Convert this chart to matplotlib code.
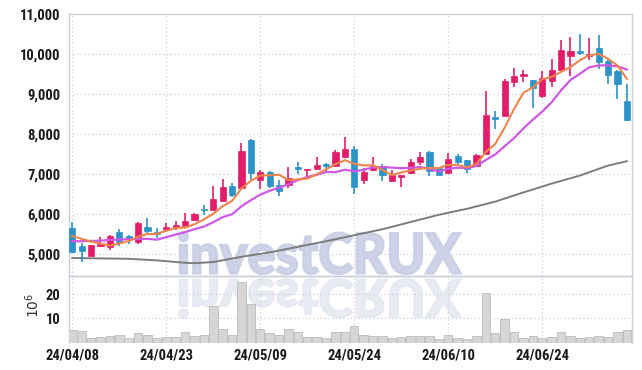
import matplotlib
matplotlib.use('Agg')
import matplotlib.pyplot as plt
import numpy as np
import pandas as pd
from matplotlib import font_manager
from matplotlib.textpath import TextPath
from matplotlib.patches import PathPatch
from matplotlib.font_manager import FontProperties
from matplotlib.transforms import Affine2D

# ---------------- data ----------------
tick_pos = [0, 10, 20, 30, 40, 50]
tick_labels = ['24/04/08', '24/04/23', '24/05/09', '24/05/24', '24/06/10', '24/06/24']

opens = [5650, 5208, 4958, 5192, 5167, 5558, 5458, 5292, 5683, 5558,
         5625, 5675, 5708, 5842, 6108, 6092, 6317, 6708, 6650, 7858,
         6842, 7042, 6733, 6717, 7142, 7092, 7133, 7258, 7192, 7425,
         7633, 6858, 7092, 7208, 6833, 6917, 7025, 7292, 7542, 7150,
         7025, 7442, 7342, 7192, 7508, 8392, 8458, 9292, 9442, 9358,
         8958, 9317, 9608, 9942, 10058, 9942, 10158, 9833, 9583, 8833]
closes = [5042, 5067, 5233, 5258, 5458, 5292, 5375, 5783, 5583, 5492,
          5675, 5717, 5833, 6008, 6092, 6375, 6675, 6483, 7583, 7025,
          7050, 6692, 6567, 6900, 7125, 7133, 7233, 7192, 7542, 7633,
          6667, 7042, 7208, 6967, 6983, 6983, 7300, 7417, 7067, 6983,
          7375, 7292, 7125, 7483, 8483, 8375, 9333, 9458, 9508, 9150,
          9400, 9608, 10108, 10083, 10025, 10008, 9792, 9483, 9258, 8358]
highs = [5792, 5275, 5233, 5425, 5483, 5625, 5483, 5800, 5900, 5650,
         5775, 5817, 6025, 6025, 6217, 6708, 6875, 6775, 7775, 7875,
         7108, 7067, 6842, 7175, 7300, 7133, 7425, 7275, 7592, 7925,
         7692, 7150, 7425, 7258, 7092, 6983, 7375, 7542, 7567, 7175,
         7525, 7508, 7358, 7508, 9083, 8583, 9383, 9650, 9592, 9358,
         9567, 9875, 10358, 10425, 10508, 10400, 10483, 9875, 9608, 9250]
lows = [5030, 4792, 4942, 5175, 5108, 5208, 5250, 5250, 5500, 5400,
        5567, 5608, 5692, 5817, 5983, 6067, 6292, 6425, 6608, 6858,
        6625, 6650, 6442, 6650, 7008, 6900, 7125, 7042, 7175, 7400,
        6508, 6758, 7067, 6833, 6792, 6675, 7008, 7233, 6958, 6983,
        7008, 7258, 7025, 7175, 7483, 8125, 8442, 9167, 9292, 8650,
        8900, 9167, 9592, 9458, 9983, 9842, 9625, 9250, 8875, 8317]
volumes = [5.1, 4.7, 1.9, 2.4, 2.8, 3.1, 1.9, 3.75, 3.3, 1.7,
           2.4, 2.1, 4.2, 2.8, 3.1, 15.1, 5.8, 3.3, 25.0, 15.8,
           5.8, 3.75, 3.3, 5.8, 4.2, 2.4, 2.4, 1.9, 4.4, 4.4,
           6.8, 3.3, 2.5, 2.5, 1.7, 2.1, 2.5, 2.5, 2.9, 1.4,
           3.3, 1.7, 1.25, 2.9, 20.4, 3.75, 9.7, 4.2, 1.9, 2.9,
           1.9, 2.4, 4.2, 2.5, 1.9, 2.1, 2.9, 2.1, 4.2, 5.0]

# moving-average values before enough history exists in the window
ma5_head = [5450, 5380, 5310, 5260]
ma10_head = [5320, 5320, 5325, 5335, 5350, 5360, 5370, 5375, 5380]

# long moving average (at sample candles)
ma_long_idx = [0, 3, 6, 9, 12, 13, 15, 18, 21, 24, 27, 30, 33, 36, 39, 42, 45, 48, 51, 54, 57, 59]
ma_long_val = [4900, 4890, 4880, 4840, 4780, 4770, 4800, 4930, 5040, 5180, 5320, 5470,
               5620, 5800, 5980, 6130, 6310, 6540, 6760, 6960, 7210, 7320]

# ---------------- style ----------------
RED = '#e31c69'
BLUE = '#2c93c8'
GRID = '#cdd0dc'
SPINE = '#cbcfd9'
DOT = (0, (1.0, 2.0))


def pick(names):
    avail = {f.name for f in font_manager.fontManager.ttflist}
    for nm in names:
        if nm in avail:
            return nm
    return 'DejaVu Sans'


tick_font = pick(['Liberation Sans Narrow', 'Roboto Condensed', 'Liberation Sans'])
wm_font = pick(['Lato', 'Roboto', 'Open Sans', 'DejaVu Sans'])

W, H = 642, 370
fig = plt.figure(figsize=(W / 100, H / 100), dpi=100)

L, R = 69, 632
T, MID, B = 14, 276, 342.5
ax = fig.add_axes([L / W, 1 - MID / H, (R - L) / W, (MID - T) / H])
axv = fig.add_axes([L / W, 1 - B / H, (R - L) / W, (B - MID) / H], sharex=ax)
for a in (ax, axv):
    a.set_facecolor('none')

n = len(closes)
x = np.arange(n)
o = np.array(opens, float)
c = np.array(closes, float)
hi = np.array(highs, float)
lo = np.array(lows, float)
up = c >= o
cols = np.where(up, RED, BLUE)

# wicks
ax.vlines(x, lo, hi, colors=cols, linewidth=1.2, zorder=3)
# bodies
bottom = np.minimum(o, c)
height = np.maximum(np.abs(c - o), 45)
ax.bar(x, height, bottom=bottom, width=0.66, color=cols, edgecolor=cols, linewidth=0.5, zorder=4)

# moving averages
cs = pd.Series(c)
ma5 = cs.rolling(5).mean().to_numpy()
ma5[:len(ma5_head)] = ma5_head
ma10 = cs.rolling(10).mean().to_numpy()
ma10[:len(ma10_head)] = ma10_head
ax.plot(ma_long_idx, ma_long_val, color='#7d7d7d', lw=1.4, zorder=2)
ax.plot(x, ma10, color='#cf58e8', lw=1.6, zorder=5)
ax.plot(x, ma5, color='#f0844c', lw=1.5, zorder=6)

ax.set_xlim(-0.35, 59.55)
ax.set_ylim(4450, 11000)
ax.set_yticks(np.arange(5000, 11001, 1000))
ax.set_yticklabels([f'{v:,}' for v in range(5000, 11001, 1000)])
ax.grid(True, color=GRID, linestyle=DOT, linewidth=0.9)
ax.set_axisbelow(True)
ax.tick_params(axis='both', length=0, pad=6)
ax.tick_params(axis='x', labelbottom=False)
for s in ax.spines.values():
    s.set_color(SPINE)
    s.set_linewidth(1.0)

# volume
axv.bar(x, volumes, width=0.9, color='#d6d6d6', edgecolor='#bcbcbc', linewidth=0.6, zorder=3)
axv.set_ylim(0, 27.6)
axv.set_yticks([10, 20])
axv.grid(True, color=GRID, linestyle=DOT, linewidth=0.9)
axv.set_axisbelow(True)
axv.set_xticks(tick_pos)
axv.set_xticklabels(tick_labels)
axv.tick_params(axis='both', length=0)
axv.tick_params(axis='y', pad=6)
axv.tick_params(axis='x', pad=4)
for s in axv.spines.values():
    s.set_color(SPINE)
    s.set_linewidth(1.0)
axv.spines['bottom'].set_visible(False)

for lab in ax.get_yticklabels() + axv.get_yticklabels() + axv.get_xticklabels():
    lab.set_fontfamily(tick_font)
    lab.set_fontweight('bold')
    lab.set_fontsize(10.5)
    lab.set_color('#1a1a1a')

fig.text(33 / W, 1 - 305 / H, r'$10^6$', rotation=90, ha='center', va='center',
         fontsize=10, color='#333333')

# watermark "investCRUX" (with mirrored reflection)
fp = FontProperties(family=wm_font, weight=900)
tp = TextPath((0, 0), 'investCRUX', size=1, prop=fp)
ext = tp.get_extents()


def place(x0, x1, y0, y1, flip=False):
    sx = (x1 - x0) / W / ext.width
    sy = (y1 - y0) / H / ext.height
    aff = Affine2D().translate(-ext.x0, -ext.y0)
    if flip:
        aff = aff.scale(sx, -sy).translate(x0 / W, 1 - y0 / H)
    else:
        aff = aff.scale(sx, sy).translate(x0 / W, 1 - y1 / H)
    return aff


fig.patches.append(PathPatch(tp, transform=place(179, 461, 232, 274) + fig.transFigure,
                             facecolor='#c6cce4', edgecolor='#c6cce4', linewidth=1.6,
                             alpha=0.85, zorder=-1))
fig.patches.append(PathPatch(tp, transform=place(179, 461, 279, 318, flip=True) + fig.transFigure,
                             facecolor='#e4e7f1', edgecolor='#e4e7f1', linewidth=1.6,
                             alpha=0.8, zorder=-1))

fig.savefig('out.png', dpi=100)
